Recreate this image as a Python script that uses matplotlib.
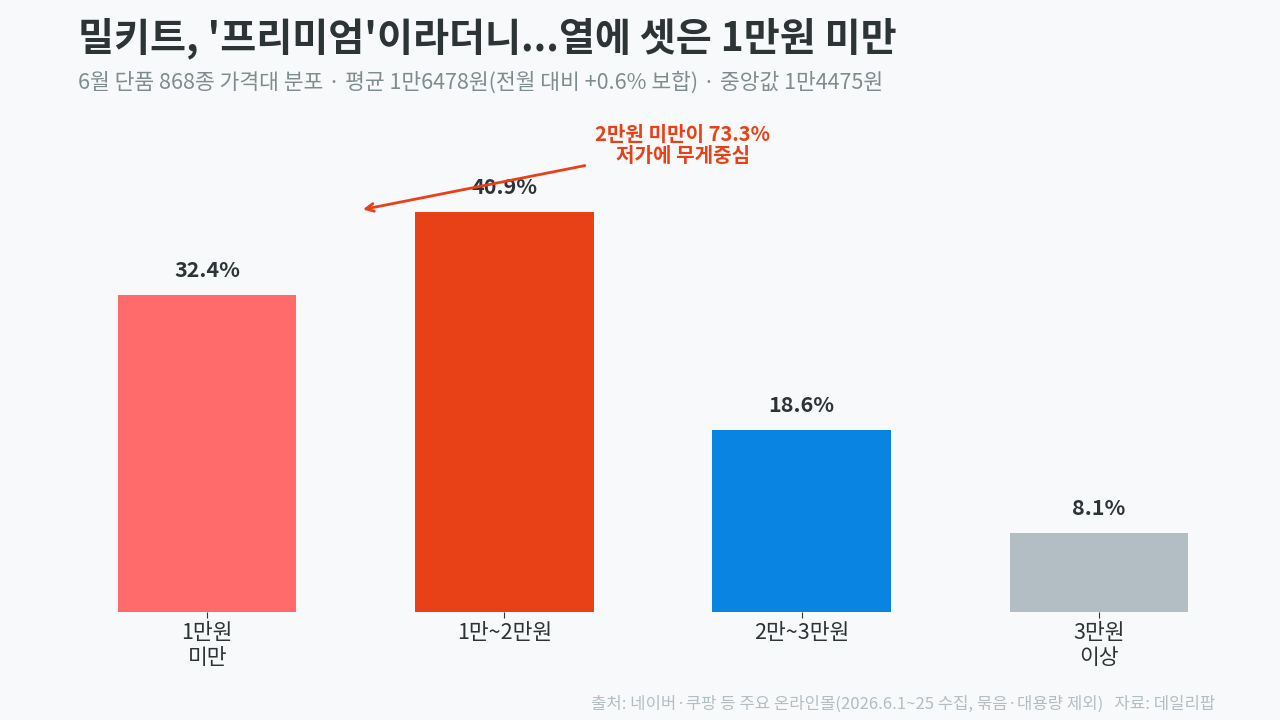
import matplotlib
matplotlib.use("Agg")
import matplotlib.pyplot as plt

plt.rcParams['font.family'] = ['Noto Sans CJK KR', 'DejaVu Sans']

categories = ["1만원\n미만", "1만~2만원", "2만~3만원", "3만원\n이상"]
shares = [32.4, 40.9, 18.6, 8.1]
bar_colors = ["#FF6B6B", "#E84118", "#0984E3", "#B2BEC3"]
title = "밀키트, '프리미엄'이라더니...열에 셋은 1만원 미만"
subtitle = "6월 단품 868종 가격대 분포 · 평균 1만6478원(전월 대비 +0.6% 보합) · 중앙값 1만4475원"
annotation = "2만원 미만이 73.3%\n저가에 무게중심"
footer = "출처: 네이버·쿠팡 등 주요 온라인몰(2026.6.1~25 수집, 묶음·대용량 제외)   자료: 데일리팝"

BG = "#F8F9FA"
DARK = "#2D3436"

fig = plt.figure(figsize=(12.8, 7.2), dpi=100, facecolor=BG)
W, H = 1280, 720
ax_left, ax_right = 58.5, 1247.5
ax_bottom, ax_top = 612, 123
ax = fig.add_axes([ax_left / W, 1 - ax_bottom / H, (ax_right - ax_left) / W, (ax_bottom - ax_top) / H])
ax.set_facecolor(BG)

x = list(range(len(categories)))
bars = ax.bar(x, shares, width=0.6, color=bar_colors, zorder=2)
ax.set_xlim(-0.5, len(categories) - 0.5)
ax.set_ylim(0, 50)

for xi, v in zip(x, shares):
    ax.annotate(f"{v}%", (xi, v), xytext=(0, 10), textcoords="offset points",
                ha="center", va="bottom", fontsize=15.5, fontweight="bold", color=DARK)

ax.set_xticks(x)
ax.set_xticklabels(categories, fontsize=15.5, color=DARK, linespacing=1.2)
ax.tick_params(axis="x", length=4, width=0.8, color=DARK, pad=3)
ax.set_yticks([])
for s in ax.spines.values():
    s.set_visible(False)

ax.annotate("", xy=(0.515, 41.1), xytext=(1.28, 45.7),
            arrowprops=dict(arrowstyle="->", color="#E84118", lw=2, mutation_scale=14))
ax.text(1.60, 47.7, annotation, ha="center", va="center", fontsize=14.5,
        fontweight="bold", color="#E84118", linespacing=1.0)

fig.text(78 / W, 1 - 38 / H, title, ha="left", va="center", fontsize=28.2,
         fontweight="bold", color=DARK)
fig.text(78 / W, 1 - 83 / H, subtitle, ha="left", va="center", fontsize=15.5,
         color="#7F8C8D")
fig.text(1215 / W, 1 - 704 / H, footer, ha="right", va="center", fontsize=12,
         color="#B2BEC3")

fig.savefig("out.png", dpi=100, facecolor=BG)
